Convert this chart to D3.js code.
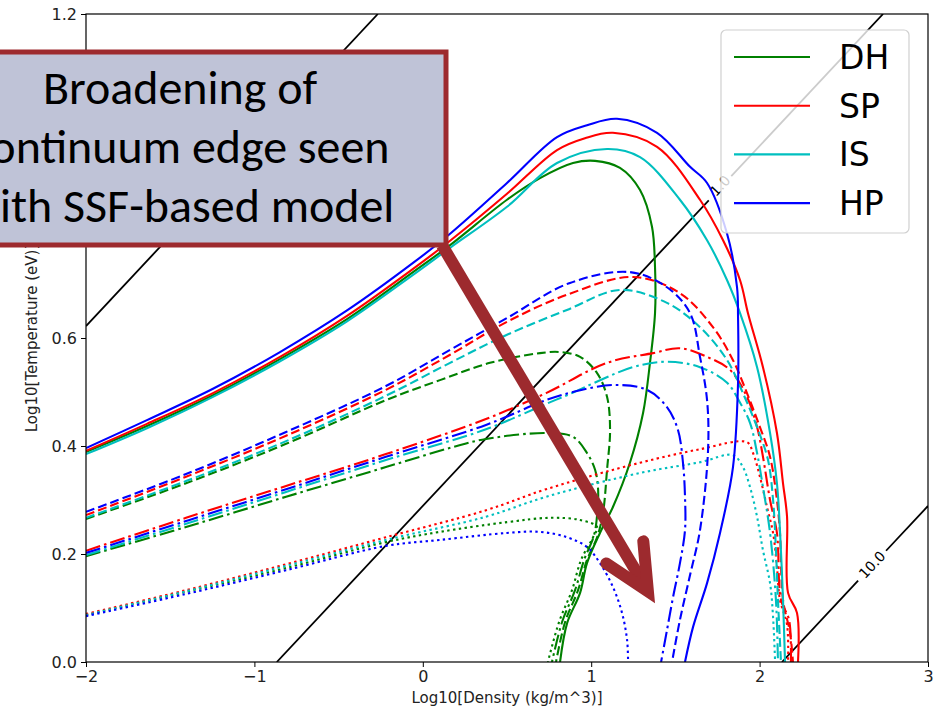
<!DOCTYPE html>
<html>
<head>
<meta charset="utf-8">
<script src="https://cdn.jsdelivr.net/npm/d3@7"></script>
<style>
  html, body { margin: 0; padding: 0; background: #ffffff; }
  svg { display: block; }
</style>
</head>
<body>
<svg id="chart" width="938" height="711"></svg>
<script>
// ---- axis ticks ----
const xTickValues = [-2, -1, 0, 1, 2, 3];
const yTickValues = [0, 0.2, 0.4, 0.6, 0.8, 1.0, 1.2];

// ---- models and contour line styles ----
const models = ["DH", "SP", "IS", "HP"];
const modelColors = ["#008000", "#ff0000", "#00bfbf", "#0000ff"];
const lineStyles = ["solid", "dashed", "dashdot", "dotted"];

// ---- contour curves: [log10 density, log10 temperature] ----
const dhSolid = [[-2,0.389],[-1.638,0.437],[-1.246,0.494],[-0.848,0.561],[-0.450,0.635],[-0.058,0.722],[0.162,0.772],[0.500,0.856],[0.696,0.896],[0.892,0.924],[1.023,0.928],[1.171,0.915],[1.290,0.874],[1.361,0.806],[1.379,0.731],[1.379,0.646],[1.349,0.554],[1.308,0.461],[1.230,0.369],[1.129,0.287],[1.052,0.239],[0.975,0.183],[0.934,0.128],[0.857,0.072],[0.815,0]];
const dhDashed = [[-2,0.265],[-1.406,0.331],[-0.812,0.404],[-0.219,0.485],[0.102,0.522],[0.399,0.554],[0.696,0.572],[0.815,0.574],[0.934,0.565],[1.035,0.535],[1.094,0.491],[1.112,0.430],[1.094,0.356],[1.070,0.276],[1.035,0.231],[0.975,0.189],[0.922,0.133],[0.845,0.074],[0.791,0]];
const dhDashdot = [[-2,0.196],[-1.406,0.250],[-0.812,0.306],[-0.219,0.361],[0.179,0.398],[0.375,0.413],[0.732,0.424],[0.892,0.417],[0.975,0.387],[1.023,0.356],[1.041,0.319],[1.035,0.272],[1.017,0.235],[0.958,0.189],[0.904,0.133],[0.827,0.074],[0.767,0]];
const dhDotted = [[-2,0.087],[-1.406,0.130],[-0.812,0.174],[-0.219,0.222],[0.102,0.241],[0.500,0.259],[0.755,0.267],[0.934,0.263],[1.035,0.250],[1.011,0.231],[0.940,0.189],[0.886,0.133],[0.809,0.074],[0.743,0]];

const spSolid = [[-2,0.391],[-1.638,0.441],[-1.246,0.498],[-0.848,0.565],[-0.450,0.641],[-0.058,0.728],[0.162,0.780],[0.500,0.867],[0.797,0.948],[0.963,0.970],[1.129,0.980],[1.391,0.954],[1.646,0.856],[1.783,0.781],[1.884,0.707],[1.931,0.646],[2.020,0.546],[2.103,0.424],[2.139,0.331],[2.163,0.269],[2.169,0.128],[2.222,0.091],[2.228,0]];
const spDashed = [[-2,0.272],[-1.406,0.343],[-0.812,0.419],[-0.219,0.504],[0.162,0.569],[0.500,0.630],[0.856,0.680],[1.248,0.713],[1.527,0.683],[1.723,0.620],[1.842,0.559],[1.925,0.498],[2.002,0.435],[2.062,0.380],[2.103,0.300],[2.121,0.239],[2.139,0.115],[2.181,0.054],[2.198,0]];
const spDashdot = [[-2,0.206],[-1.406,0.267],[-0.812,0.326],[-0.219,0.385],[0.375,0.450],[0.732,0.498],[1.094,0.554],[1.367,0.572],[1.527,0.581],[1.688,0.565],[1.824,0.541],[1.925,0.491],[1.985,0.435],[2.020,0.380],[2.062,0.300],[2.103,0.239],[2.127,0.115],[2.175,0.078],[2.186,0]];
const spDotted = [[-2,0.089],[-1.406,0.133],[-0.812,0.181],[-0.219,0.231],[0.375,0.281],[0.732,0.320],[1.290,0.369],[1.646,0.394],[1.925,0.407],[1.961,0.387],[2.002,0.343],[2.044,0.287],[2.080,0.239],[2.103,0.176],[2.121,0.115],[2.163,0.069],[2.169,0]];

const isSolid = [[-2,0.385],[-1.638,0.433],[-1.246,0.491],[-0.848,0.557],[-0.450,0.631],[-0.058,0.717],[0.162,0.767],[0.500,0.843],[0.797,0.924],[1.094,0.950],[1.290,0.935],[1.527,0.856],[1.688,0.781],[1.807,0.707],[1.884,0.646],[1.985,0.546],[2.062,0.424],[2.103,0.331],[2.121,0.244],[2.139,0.115],[2.151,0]];
const isDashed = [[-2,0.267],[-1.406,0.335],[-0.812,0.409],[-0.219,0.493],[0.162,0.554],[0.500,0.606],[0.856,0.652],[1.171,0.689],[1.450,0.665],[1.646,0.620],[1.807,0.559],[1.901,0.498],[1.985,0.435],[2.050,0.374],[2.080,0.300],[2.097,0.207],[2.109,0.115],[2.127,0]];
const isDashdot = [[-2,0.198],[-1.406,0.256],[-0.812,0.315],[-0.219,0.374],[0.375,0.431],[0.732,0.478],[0.856,0.494],[1.248,0.546],[1.450,0.556],[1.646,0.546],[1.807,0.517],[1.884,0.480],[1.943,0.443],[1.985,0.387],[2.020,0.324],[2.062,0.239],[2.097,0.115],[2.109,0]];
const isDotted = [[-2,0.087],[-1.406,0.131],[-0.812,0.178],[-0.219,0.226],[0.375,0.269],[0.732,0.306],[1.290,0.350],[1.646,0.370],[1.842,0.383],[1.901,0.361],[1.943,0.324],[1.985,0.269],[2.020,0.207],[2.062,0.146],[2.080,0.083],[2.092,0]];

const hpSolid = [[-2,0.396],[-1.638,0.448],[-1.246,0.506],[-0.848,0.574],[-0.450,0.651],[-0.058,0.739],[0.162,0.793],[0.500,0.887],[0.797,0.972],[0.975,0.994],[1.153,1.006],[1.391,0.980],[1.587,0.917],[1.688,0.887],[1.806,0.794],[1.866,0.694],[1.872,0.639],[1.872,0.517],[1.842,0.361],[1.765,0.239],[1.688,0.146],[1.605,0.065],[1.557,0]];
const hpDashed = [[-2,0.278],[-1.406,0.348],[-0.812,0.426],[-0.219,0.511],[0.162,0.578],[0.500,0.637],[0.874,0.702],[1.230,0.722],[1.450,0.694],[1.587,0.646],[1.646,0.565],[1.688,0.485],[1.694,0.393],[1.646,0.244],[1.587,0.161],[1.527,0.078],[1.480,0]];
const hpDashdot = [[-2,0.202],[-1.406,0.261],[-0.812,0.320],[-0.219,0.380],[0.375,0.439],[0.732,0.485],[0.892,0.500],[1.129,0.513],[1.331,0.504],[1.450,0.472],[1.515,0.430],[1.545,0.369],[1.557,0.306],[1.557,0.244],[1.527,0.183],[1.486,0.120],[1.450,0.059],[1.415,0]];
const hpDotted = [[-2,0.085],[-1.406,0.126],[-0.812,0.170],[-0.219,0.215],[0.102,0.226],[0.500,0.239],[0.696,0.241],[0.856,0.231],[0.975,0.213],[1.052,0.183],[1.129,0.139],[1.183,0.091],[1.213,0.041],[1.219,0]];

// ---- coupling-parameter contour lines (straight in log-log) ----
const gammaLevels = ["0.1", "1.0", "10.0"];
const gammaStart = [[-2, 0.622], [-0.867, 0], [2.133, 0]];
const gammaEnd = [[-0.267, 1.2], [2.733, 1.2], [3, 0.289]];
// where each level is labelled (null = unlabelled) and the half-gap around the label (in log density)
const gammaLabelAt = [null, [1.765, 0.882], [2.668, 0.180]];
const gammaGapHalf = [0, 0.067, 0.083];

// ---- annotation ----
const calloutLines = ["Broadening of", "continuum edge seen", "with SSF-based model"];
const arrowTail = [0.114, 0.772];
const arrowTip = [1.379, 0.109];

// ------------------------------------------------------------------
const curvesByModel = [
  [dhSolid, dhDashed, dhDashdot, dhDotted],
  [spSolid, spDashed, spDashdot, spDotted],
  [isSolid, isDashed, isDashdot, isDotted],
  [hpSolid, hpDashed, hpDashdot, hpDotted]
];

const plot = { left: 86, right: 928, top: 14, bottom: 662 };

const svg = d3.select("#chart");
const x = d3.scaleLinear().domain([-2, 3]).range([plot.left, plot.right]);
const y = d3.scaleLinear().domain([0, 1.2]).range([plot.bottom, plot.top]);

svg.append("defs").append("clipPath").attr("id", "plotClip")
  .append("rect")
  .attr("x", plot.left).attr("y", plot.top)
  .attr("width", plot.right - plot.left).attr("height", plot.bottom - plot.top);

const dashFor = {
  solid: null,
  dashed: "9,4",
  dashdot: "15,4,2.6,4",
  dotted: "2.4,3.4"
};

const plotG = svg.append("g").attr("clip-path", "url(#plotClip)");

// coupling-parameter lines
gammaLevels.forEach((lvl, i) => {
  const a = gammaStart[i], b = gammaEnd[i];
  const lab = gammaLabelAt[i];
  const segs = [];
  if (lab) {
    const t = (x0) => [x0, a[1] + (b[1] - a[1]) * (x0 - a[0]) / (b[0] - a[0])];
    segs.push([a, t(lab[0] - gammaGapHalf[i])]);
    segs.push([t(lab[0] + gammaGapHalf[i]), b]);
  } else {
    segs.push([a, b]);
  }
  segs.forEach(s => {
    plotG.append("line")
      .attr("x1", x(s[0][0])).attr("y1", y(s[0][1]))
      .attr("x2", x(s[1][0])).attr("y2", y(s[1][1]))
      .attr("stroke", "#000").attr("stroke-width", 1.8);
  });
  if (lab) {
    const ang = Math.atan2(y(b[1]) - y(a[1]), x(b[0]) - x(a[0])) * 180 / Math.PI;
    plotG.append("text")
      .attr("transform", `translate(${x(lab[0])},${y(lab[1])}) rotate(${ang})`)
      .attr("text-anchor", "middle").attr("dy", "0.35em")
      .attr("font-family", "DejaVu Sans").attr("font-size", 14)
      .attr("fill", "#000")
      .text(lvl);
  }
});

// model contours
const lineGen = d3.line()
  .x(d => x(d[0])).y(d => y(d[1]))
  .curve(d3.curveCatmullRom.alpha(0.5));

models.forEach((m, mi) => {
  lineStyles.forEach((ls, li) => {
    plotG.append("path")
      .datum(curvesByModel[mi][li])
      .attr("d", lineGen)
      .attr("fill", "none")
      .attr("stroke", modelColors[mi])
      .attr("stroke-width", 2.1)
      .attr("stroke-dasharray", dashFor[ls]);
  });
});

// axes
const xAxis = d3.axisBottom(x).tickValues(xTickValues).tickSizeOuter(0).tickSize(5).tickPadding(4)
  .tickFormat(d => d < 0 ? "\u2212" + Math.abs(d) : String(d));
const yAxis = d3.axisLeft(y).tickValues(yTickValues).tickSizeOuter(0).tickSize(5).tickPadding(4)
  .tickFormat(d3.format(".1f"));

const gx = svg.append("g").attr("transform", `translate(0,${plot.bottom})`).call(xAxis);
const gy = svg.append("g").attr("transform", `translate(${plot.left},0)`).call(yAxis);
[gx, gy].forEach(g => {
  g.select(".domain").remove();
  g.selectAll(".tick line").attr("stroke", "#000").attr("stroke-width", 1);
  g.selectAll(".tick text").attr("font-family", "DejaVu Sans").attr("font-size", 16).attr("fill", "#222");
});

// frame
svg.append("rect")
  .attr("x", plot.left).attr("y", plot.top)
  .attr("width", plot.right - plot.left).attr("height", plot.bottom - plot.top)
  .attr("fill", "none").attr("stroke", "#000").attr("stroke-width", 1.2);

// axis titles
svg.append("text")
  .attr("x", (plot.left + plot.right) / 2).attr("y", 703)
  .attr("text-anchor", "middle")
  .attr("font-family", "DejaVu Sans").attr("font-size", 15).attr("fill", "#222")
  .text("Log10[Density (kg/m^3)]");
svg.append("text")
  .attr("transform", `translate(37,${(plot.top + plot.bottom) / 2}) rotate(-90)`)
  .attr("text-anchor", "middle")
  .attr("font-family", "DejaVu Sans").attr("font-size", 15).attr("fill", "#222")
  .text("Log10[Temperature (eV)]");

// legend
const legend = svg.append("g");
legend.append("rect")
  .attr("x", 721).attr("y", 30).attr("width", 188).attr("height", 203).attr("rx", 5)
  .attr("fill", "#fff").attr("fill-opacity", 0.8)
  .attr("stroke", "#d0d0d0").attr("stroke-width", 1.2);
models.forEach((m, i) => {
  const ly = 57 + i * 48.7;
  legend.append("line")
    .attr("x1", 734).attr("x2", 810).attr("y1", ly).attr("y2", ly)
    .attr("stroke", modelColors[i]).attr("stroke-width", 2.1);
  legend.append("text")
    .attr("x", 839).attr("y", ly).attr("dy", "0.36em")
    .attr("font-family", "DejaVu Sans").attr("font-size", 33).attr("fill", "#000")
    .text(m);
});

// callout arrow
const ARROW = "#9d2a2e";
const tail = [x(arrowTail[0]), y(arrowTail[1])];
const tipOuter = [x(arrowTip[0]), y(arrowTip[1])];
const dx = tipOuter[0] - tail[0], dy = tipOuter[1] - tail[1];
const len = Math.hypot(dx, dy);
const ux = dx / len, uy = dy / len;
const sw = 12;
const half = 25.5 * Math.PI / 180;
const tip = [tipOuter[0] - ux * (sw / 2) / Math.sin(half), tipOuter[1] - uy * (sw / 2) / Math.sin(half)];
const armLen = 50;
const rot = (vx, vy, a) => [vx * Math.cos(a) - vy * Math.sin(a), vx * Math.sin(a) + vy * Math.cos(a)];
const b1 = rot(-ux, -uy, half), b2 = rot(-ux, -uy, -half);
svg.append("line")
  .attr("x1", tail[0]).attr("y1", tail[1]).attr("x2", tip[0] - ux * 4).attr("y2", tip[1] - uy * 4)
  .attr("stroke", ARROW).attr("stroke-width", sw);
svg.append("path")
  .attr("d", `M${tip[0] + b1[0] * armLen},${tip[1] + b1[1] * armLen}L${tip[0]},${tip[1]}L${tip[0] + b2[0] * armLen},${tip[1] + b2[1] * armLen}`)
  .attr("fill", "none").attr("stroke", ARROW).attr("stroke-width", sw)
  .attr("stroke-linejoin", "miter").attr("stroke-linecap", "round");

// callout box
const box = svg.append("g");
box.append("rect")
  .attr("x", -86).attr("y", 52).attr("width", 532).attr("height", 193)
  .attr("fill", "#bfc3d7").attr("stroke", ARROW).attr("stroke-width", 5);
const targetWidths = [275, 418, 429];
const texts = calloutLines.map((t, i) =>
  box.append("text")
    .attr("x", 180).attr("y", 104 + i * 59)
    .attr("text-anchor", "middle")
    .attr("font-family", "Calibri, Carlito, Lato, sans-serif")
    .attr("font-size", 48).attr("fill", "#000")
    .text(t));
let ratio = 0;
texts.forEach((t, i) => { ratio += targetWidths[i] / t.node().getComputedTextLength(); });
ratio /= texts.length;
texts.forEach(t => t.attr("font-size", 48 * ratio));
</script>
</body>
</html>
